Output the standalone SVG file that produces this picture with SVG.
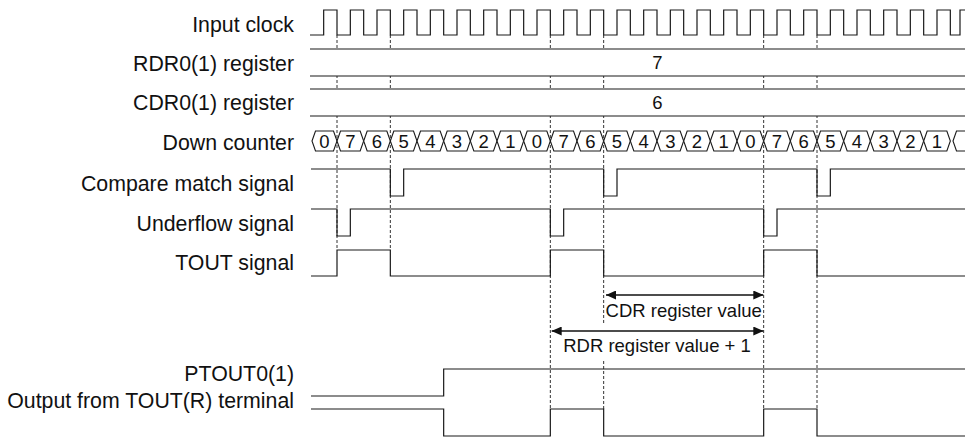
<svg xmlns="http://www.w3.org/2000/svg" xmlns:xlink="http://www.w3.org/1999/xlink" width="965" height="439" viewBox="0 0 965 439">
<style>
.lbl{font-family:"Liberation Sans",Arial,sans-serif;font-size:21.3px;fill:#111;text-anchor:end}
.val{font-family:"Liberation Sans",Arial,sans-serif;font-size:18.5px;fill:#111;text-anchor:middle}
.sig{fill:none;stroke:#1a1a1a;stroke-width:1.2}
.dash{fill:none;stroke:#333;stroke-width:1;stroke-dasharray:3 2}
.cell{fill:#fff;stroke:#1a1a1a;stroke-width:1.1}
.dim{fill:none;stroke:#111;stroke-width:1.3;marker-start:url(#ah);marker-end:url(#ah)}
</style>
<defs>
<marker id="ah" viewBox="0 0 10 9" refX="10" refY="4.5" markerWidth="10" markerHeight="9" markerUnits="userSpaceOnUse" orient="auto-start-reverse">
<path d="M0,0 L10,4.5 L0,9 Z" fill="#111"/>
</marker>
<path id="cell" class="cell" d="M0,10 L3.5,0 H23.17 L26.67,10 L23.17,20 H3.5 Z"/>
</defs>
<rect width="965" height="439" fill="#fff"/>

<g id="connectors">
<line class="dash" x1="337" y1="35" x2="337" y2="250"/>
<line class="dash" x1="390.33" y1="35" x2="390.33" y2="250"/>
<line class="dash" x1="550.33" y1="35" x2="550.33" y2="409"/>
<line class="dash" x1="603.67" y1="35" x2="603.67" y2="323"/>
<line class="dash" x1="603.67" y1="361" x2="603.67" y2="409"/>
<line class="dash" x1="763.67" y1="35" x2="763.67" y2="409"/>
<line class="dash" x1="817" y1="35" x2="817" y2="409"/>
<line class="dim" x1="606" y1="295" x2="763.3" y2="295"/>
<line class="dim" x1="551.7" y1="331" x2="763.3" y2="331"/>
<text class="val" x="683.7" y="317">CDR register value</text>
<text class="val" x="657" y="352">RDR register value + 1</text>
</g>

<g id="input-clock">
<text class="lbl" x="294" y="32">Input clock</text>
<path class="sig" d="M310,35 H323.67 V10 H337 V35 H350.33 V10 H363.67 V35 H377 V10 H390.33 V35 H403.67 V10 H417 V35 H430.33 V10 H443.67 V35 H457 V10 H470.33 V35 H483.67 V10 H497 V35 H510.33 V10 H523.67 V35 H537 V10 H550.33 V35 H563.67 V10 H577 V35 H590.33 V10 H603.67 V35 H617 V10 H630.33 V35 H643.67 V10 H657 V35 H670.33 V10 H683.67 V35 H697 V10 H710.33 V35 H723.67 V10 H737 V35 H750.33 V10 H763.67 V35 H777 V10 H790.33 V35 H803.67 V10 H817 V35 H830.33 V10 H843.67 V35 H857 V10 H870.33 V35 H883.67 V10 H897 V35 H910.33 V10 H923.67 V35 H937 V10 H950.33 V35 H960 V10 H965"/>
</g>

<g id="rdr-register">
<text class="lbl" x="294" y="71">RDR0(1) register</text>
<rect x="310" y="49" width="655" height="27" fill="#fff"/>
<path class="sig" d="M310,49 H965 M310,76 H965"/>
<text class="val" x="657.5" y="69">7</text>
</g>

<g id="cdr-register">
<text class="lbl" x="294" y="110">CDR0(1) register</text>
<rect x="310" y="89" width="655" height="27" fill="#fff"/>
<path class="sig" d="M310,89 H965 M310,116 H965"/>
<text class="val" x="657.5" y="109">6</text>
</g>

<g id="down-counter">
<text class="lbl" x="294" y="150">Down counter</text>
<polygon class="cell" points="312,141 315.5,131 333.5,131 337,141 333.5,151 315.5,151"/>
<use xlink:href="#cell" x="337" y="131"/>
<use xlink:href="#cell" x="363.67" y="131"/>
<use xlink:href="#cell" x="390.33" y="131"/>
<use xlink:href="#cell" x="417" y="131"/>
<use xlink:href="#cell" x="443.67" y="131"/>
<use xlink:href="#cell" x="470.33" y="131"/>
<use xlink:href="#cell" x="497" y="131"/>
<use xlink:href="#cell" x="523.67" y="131"/>
<use xlink:href="#cell" x="550.33" y="131"/>
<use xlink:href="#cell" x="577" y="131"/>
<use xlink:href="#cell" x="603.67" y="131"/>
<use xlink:href="#cell" x="630.33" y="131"/>
<use xlink:href="#cell" x="657" y="131"/>
<use xlink:href="#cell" x="683.67" y="131"/>
<use xlink:href="#cell" x="710.33" y="131"/>
<use xlink:href="#cell" x="737" y="131"/>
<use xlink:href="#cell" x="763.67" y="131"/>
<use xlink:href="#cell" x="790.33" y="131"/>
<use xlink:href="#cell" x="817" y="131"/>
<use xlink:href="#cell" x="843.67" y="131"/>
<use xlink:href="#cell" x="870.33" y="131"/>
<use xlink:href="#cell" x="897" y="131"/>
<use xlink:href="#cell" x="923.67" y="131"/>
<use xlink:href="#cell" x="953" y="131"/>
<text class="val" x="324.5" y="147.5">0</text>
<text class="val" x="350.33" y="147.5">7</text>
<text class="val" x="377" y="147.5">6</text>
<text class="val" x="403.67" y="147.5">5</text>
<text class="val" x="430.33" y="147.5">4</text>
<text class="val" x="457" y="147.5">3</text>
<text class="val" x="483.67" y="147.5">2</text>
<text class="val" x="510.33" y="147.5">1</text>
<text class="val" x="537" y="147.5">0</text>
<text class="val" x="563.67" y="147.5">7</text>
<text class="val" x="590.33" y="147.5">6</text>
<text class="val" x="617" y="147.5">5</text>
<text class="val" x="643.67" y="147.5">4</text>
<text class="val" x="670.33" y="147.5">3</text>
<text class="val" x="697" y="147.5">2</text>
<text class="val" x="723.67" y="147.5">1</text>
<text class="val" x="750.33" y="147.5">0</text>
<text class="val" x="777" y="147.5">7</text>
<text class="val" x="803.67" y="147.5">6</text>
<text class="val" x="830.33" y="147.5">5</text>
<text class="val" x="857" y="147.5">4</text>
<text class="val" x="883.67" y="147.5">3</text>
<text class="val" x="910.33" y="147.5">2</text>
<text class="val" x="937" y="147.5">1</text>
</g>

<g id="compare-match">
<text class="lbl" x="294" y="190.5">Compare match signal</text>
<path class="sig" d="M311,169 H390.33 V196 H403.67 V169 H603.67 V196 H617 V169 H817 V196 H830.33 V169 H965"/>
</g>

<g id="underflow">
<text class="lbl" x="294" y="230.5">Underflow signal</text>
<path class="sig" d="M311,209 H337 V236 H350.33 V209 H550.33 V236 H563.67 V209 H763.67 V236 H777 V209 H965"/>
</g>

<g id="tout">
<text class="lbl" x="294" y="270">TOUT signal</text>
<path class="sig" d="M311,276 H337 V250 H390.33 V276 H550.33 V250 H603.67 V276 H763.67 V250 H817 V276 H965"/>
</g>

<g id="ptout">
<text class="lbl" x="294" y="381">PTOUT0(1)</text>
<path class="sig" d="M311,396 H443.67 V369 H965"/>
</g>

<g id="tout-r-output">
<text class="lbl" x="294" y="408">Output from TOUT(R) terminal</text>
<path class="sig" d="M311,409 H443.67 V436 H550.33 V409 H603.67 V436 H763.67 V409 H817 V436 H965"/>
</g>
</svg>
